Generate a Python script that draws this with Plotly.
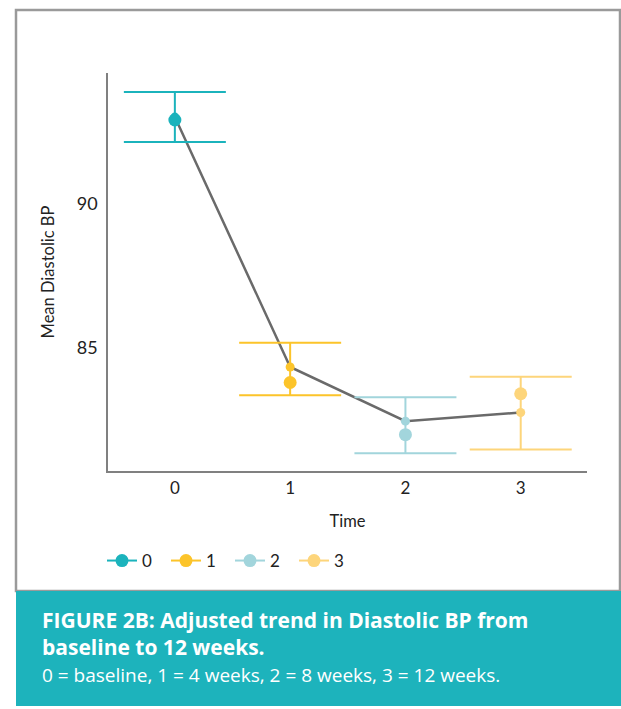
import plotly.graph_objects as go

# ---- data ----
times = [0, 1, 2, 3]
time_labels = ["0", "1", "2", "3"]
observed_mean = [92.9, 83.79, 81.98, 83.40]     # large dots
adjusted_mean = [93.0, 84.33, 82.45, 82.75]     # small dots / trend line
ci_low = [92.14, 83.35, 81.34, 81.47]
ci_high = [93.87, 85.17, 83.28, 83.99]
colors = ["#1bb3bc", "#fcc42a", "#a2d5dc", "#fdd57b"]
y_ticks = [85, 90]

W, H = 621, 709
L, R, T, B = 108, 34, 73, 238
pw, ph = W - L - R, H - T - B


def px_x(p):
    return (p - L) / pw


def px_y(p):
    return (H - B - p) / ph


FONT = "Lato"
CAP_FONT = "Open Sans"
TXT = "#222222"

fig = go.Figure()

# trend line through adjusted means
fig.add_trace(go.Scatter(
    x=times, y=adjusted_mean, mode="lines",
    line=dict(color="#6a6a6a", width=2.5),
    showlegend=False, hoverinfo="skip"))

for i, t in enumerate(times):
    c = colors[i]
    # error bars + small dot at adjusted mean
    fig.add_trace(go.Scatter(
        x=[t], y=[adjusted_mean[i]], mode="markers",
        marker=dict(color=c, size=9),
        error_y=dict(type="data", symmetric=False,
                     array=[ci_high[i] - adjusted_mean[i]],
                     arrayminus=[adjusted_mean[i] - ci_low[i]],
                     color=c, thickness=2, width=51),
        showlegend=False, hoverinfo="skip"))
    # large dot at observed mean (legend entry)
    fig.add_trace(go.Scatter(
        x=[t], y=[observed_mean[i]], mode="lines+markers",
        name=time_labels[i],
        marker=dict(color=c, size=13),
        line=dict(color=c, width=2)))

# outer frame
fig.add_shape(type="rect", xref="paper", yref="paper",
              x0=px_x(16), x1=px_x(620), y0=px_y(591), y1=px_y(10),
              line=dict(color="#9a9a9a", width=2.5), fillcolor="rgba(0,0,0,0)",
              layer="below")
# caption box
fig.add_shape(type="rect", xref="paper", yref="paper",
              x0=px_x(16), x1=px_x(621), y0=px_y(706), y1=px_y(591),
              line=dict(width=0), fillcolor="#1db3bc", layer="below")

fig.add_annotation(xref="paper", yref="paper", x=px_x(40), y=px_y(620),
                   xanchor="left", yanchor="middle", showarrow=False,
                   text="<b>FIGURE 2B: Adjusted trend in Diastolic BP from</b>",
                   font=dict(family=CAP_FONT, size=21, color="white"))
fig.add_annotation(xref="paper", yref="paper", x=px_x(40), y=px_y(647),
                   xanchor="left", yanchor="middle", showarrow=False,
                   text="<b>baseline to 12 weeks.</b>",
                   font=dict(family=CAP_FONT, size=21, color="white"))
fig.add_annotation(xref="paper", yref="paper", x=px_x(40), y=px_y(675),
                   xanchor="left", yanchor="middle", showarrow=False,
                   text="0 = baseline, 1 = 4 weeks, 2 = 8 weeks, 3 = 12 weeks.",
                   font=dict(family=CAP_FONT, size=19, color="white"))

fig.update_layout(
    width=W, height=H,
    margin=dict(l=L, r=R, t=T, b=B, autoexpand=False),
    paper_bgcolor="white", plot_bgcolor="white",
    font=dict(family=FONT, color=TXT, size=16),
    legend=dict(orientation="h", x=px_x(102), y=px_y(561),
                xanchor="left", yanchor="middle",
                font=dict(family=FONT, size=17, color=TXT),
                entrywidth=19, entrywidthmode="pixels",
                bgcolor="rgba(0,0,0,0)", itemclick=False),
    xaxis=dict(range=[-0.58, 3.575], tickvals=times, ticktext=time_labels,
               showgrid=False, zeroline=False, showline=True,
               linecolor="#808080", linewidth=1.5, ticks="",
               tickfont=dict(size=17, color=TXT), ticklabelstandoff=1,
               title=dict(text="Time", font=dict(size=16.5, color=TXT), standoff=18)),
    yaxis=dict(range=[80.72, 94.53], tickvals=y_ticks,
               showgrid=False, zeroline=False, showline=True,
               linecolor="#808080", linewidth=1.5, ticks="",
               tickfont=dict(size=18, color=TXT), ticklabelstandoff=5,
               title=dict(text="Mean Diastolic BP", font=dict(size=16.5, color=TXT), standoff=18)),
)

fig.write_html("out.html",
               config={"displayModeBar": False},
               post_script="document.documentElement.style.margin='0';"
                           "document.body.style.margin='0';"
                           "document.body.style.overflow='hidden';")
